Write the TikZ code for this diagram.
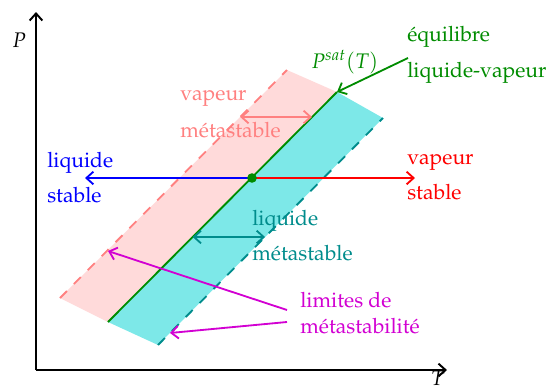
\documentclass[tikz,border=0pt]{standalone}
\usepackage[T1]{fontenc}
\usepackage{mathpazo}
\usepackage{xcolor}
\usepackage{tikz}
\usetikzlibrary{arrows.meta,calc}

\definecolor{rose}{RGB}{255,218,218}
\definecolor{roseline}{RGB}{255,128,128}
\definecolor{turq}{RGB}{125,232,232}
\definecolor{teal2}{RGB}{0,140,140}
\definecolor{vert}{RGB}{0,140,0}
\definecolor{mag}{RGB}{210,0,210}

\newcommand{\grand}{\fontsize{15}{18}\selectfont}

\tikzset{
  >={Straight Barb[length=5pt, width=9pt]},
  lbl/.style={align=left, anchor=west, font=\grand, inner sep=0pt},
  fl/.style={line width=1.3pt, ->},
  dfl/.style={line width=1.3pt, <->},
  lim/.style={line width=1.3pt, dash pattern=on 7pt off 7pt},
}

\begin{document}
\begin{tikzpicture}
		\useasboundingbox (-0.9,-0.525) rectangle (12.8,9.25);

		% coins des bandes
		\coordinate (vb) at (0.6,1.8);
		\coordinate (vh) at (6.275,7.5);
		\coordinate (eb) at (1.8,1.2);
		\coordinate (eh) at (7.525,6.95);
		\coordinate (lb) at (3.05,0.625);
		\coordinate (lh) at (8.675,6.3);

		\fill[rose] (vb) -- (vh) -- (eh) -- (eb) -- cycle;
		\fill[turq] (eb) -- (eh) -- (lh) -- (lb) -- cycle;

		% axes
		\coordinate (o) at (0,0);
		\coordinate (pmax) at (0,8.95);
		\coordinate (tmax) at (10.275,0);
		\draw[line width=1.4pt, ->] (o) -- (pmax);
		\draw[line width=1.4pt, ->] (o) -- (tmax);
		\node[font=\grand] (P) at (-0.42,8.25) {$P$};
		\node[font=\grand] (T) at (10.05,-0.2) {$T$};

		% textes
		\node[lbl, blue] (liqst) at (0.275,4.82) {liquide\\[7pt]stable};
		\node[lbl, red] (vapst) at (9.275,4.82) {vapeur\\[7pt]stable};
		\node[lbl, roseline] (vapmet) at (3.6,6.4) {vapeur\\[8pt]m\'etastable};
		\node[lbl, teal2] (liqmet) at (5.4,3.36) {liquide\\[7pt]m\'etastable};
		\node[lbl, vert] (equi) at (9.275,7.88) {\'equilibre\\[8pt]liquide-vapeur};
		\node[lbl, mag] (limites) at (6.6,1.42) {limites de\\m\'etastabilit\'e};
		\node[font=\grand, vert] (psat) at (7.72,7.7) {$P^{sat}(T)$};

		% limites de metastabilite
		\draw[lim, roseline] (vb) -- (vh);
		\draw[lim, teal2] (lb) -- (lh);
		\draw[line width=1.3pt, vert] (eb) -- (eh);

		% fleches
		\coordinate (pt) at (5.4,4.8);
		\coordinate (gauche) at (1.225,4.8);
		\coordinate (droite) at (9.475,4.8);
		\draw[fl, blue] (pt) -- (gauche);
		\draw[fl, red] (pt) -- (droite);
		\coordinate (va) at (5.105,6.325);
		\coordinate (vb2) at (6.9,6.325);
		\draw[dfl, roseline] (va) -- (vb2);
		\coordinate (la) at (3.916,3.325);
		\coordinate (lb2) at (5.726,3.325);
		\draw[dfl, teal2] (la) -- (lb2);
		\coordinate (eq) at (9.3,7.8);
		\draw[fl, vert] (eq) -- (eh);
		\coordinate (m1) at (6.275,1.5);
		\coordinate (m2) at (6.275,1.2);
		\draw[fl, mag] (m1) -- (1.8,2.975);
		\draw[fl, mag] (m2) -- (3.35,0.925);
		\fill[vert] (pt) circle (0.12);
	\end{tikzpicture}
\end{document}
